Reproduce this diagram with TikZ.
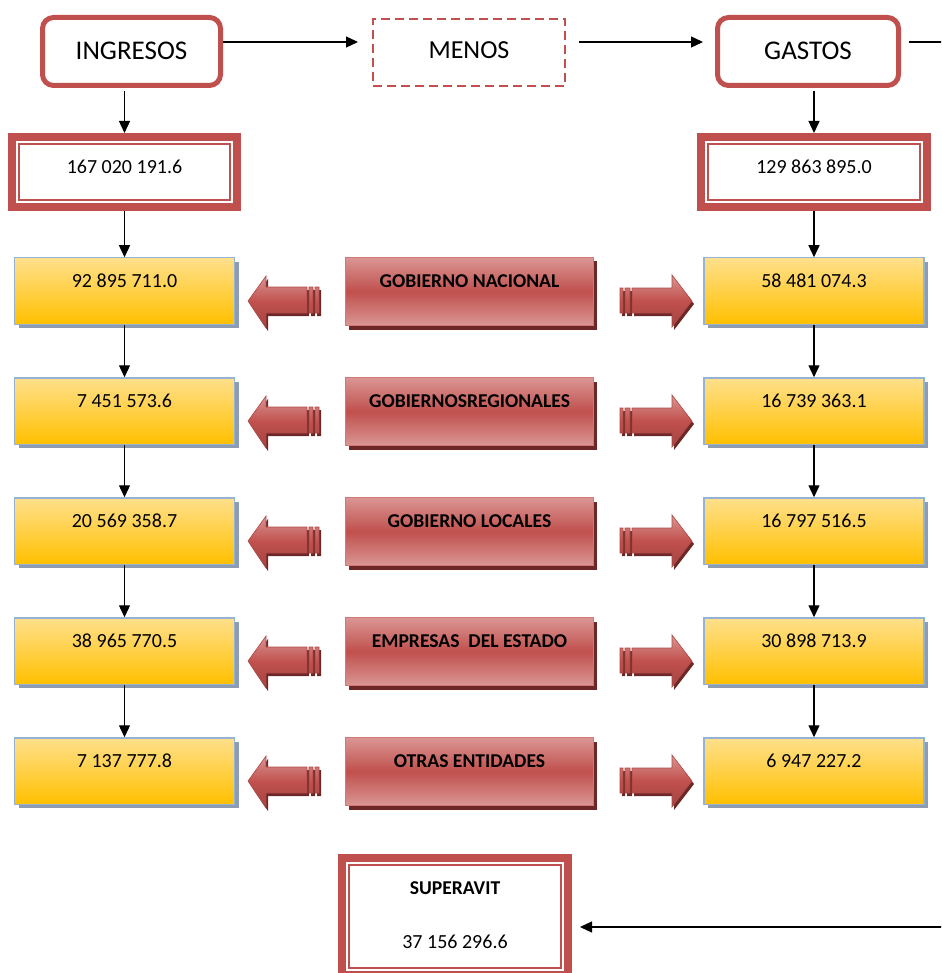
\documentclass[tikz,border=0pt]{standalone}
\usepackage{fontspec}
\setmainfont{Carlito}
\usetikzlibrary{arrows.meta,shadows,calc}
\definecolor{rojo}{HTML}{C0504D}
\definecolor{rojoclaro}{HTML}{DA9694}
\definecolor{rojooscuro}{HTML}{6B2826}
\definecolor{amarclaro}{HTML}{FFE08C}
\definecolor{amarillo}{HTML}{FFC000}
\definecolor{azulborde}{HTML}{95B3D7}
\definecolor{sombragris}{HTML}{8E9CB2}
\newcommand{\innerframe}[1]{\draw[rojo, line width=2pt] ($(#1.north west)+(7.3,7.3)$) rectangle ($(#1.south east)+(-7.3,-7.3)$);}
\begin{document}
\begin{tikzpicture}[x=1pt,y=-1pt,
  conn/.style={draw=black, line width=1.3pt, -{Triangle[length=12pt,width=11pt]}},
  topbox/.style={draw=rojo, line width=5pt, rounded corners=11pt, fill=white, outer sep=0pt, inner sep=0pt, minimum height=68pt, font=\fontsize{27}{30}\selectfont},
  menosbox/.style={draw=rojo, line width=2.4pt, dash pattern=on 9pt off 5pt, outer sep=0pt, inner sep=0pt, minimum width=192pt, minimum height=67pt, font=\fontsize{26}{30}\selectfont},
  dblbox/.style={draw=rojo, line width=8pt, fill=white, outer sep=0pt, inner sep=0pt},
  numtext/.style={font=\fontsize{20}{24}\selectfont, inner sep=0pt},
  yelbox/.style={draw=azulborde, line width=1.5pt, top color=amarclaro, bottom color=amarillo, minimum width=220pt, minimum height=66.5pt, outer sep=0pt, inner sep=0pt, drop shadow={shadow xshift=4pt, shadow yshift=-4pt, fill=sombragris, opacity=1}},
  redbox/.style={draw=rojoclaro!60!rojo, line width=1.2pt, top color=rojoclaro, bottom color=rojoclaro, middle color=rojo, minimum width=248pt, minimum height=68pt, outer sep=0pt, inner sep=0pt, drop shadow={shadow xshift=3pt, shadow yshift=-4pt, fill=rojooscuro, opacity=1}},
  redtext/.style={font=\bfseries\fontsize{19.6}{22}\selectfont, inner sep=0pt},
  blockarrow/.style={top color=rojoclaro, bottom color=rojo!85!black, middle color=rojo, draw=rojo!90!black, line width=0.6pt},
  blockshadow/.style={fill=rojooscuro},
]
\useasboundingbox (0,0) rectangle (941,973);
\clip (0,0) rectangle (941,973);
\coordinate (toprow) at (0,42);
\coordinate (botrow) at (0,927);

% top row
\node[topbox, minimum width=178pt] (ingresos) at (131.5,51.5) {\raisebox{2pt}{INGRESOS}};
\node[menosbox] (menos) at (469,52.5) {\raisebox{5pt}{MENOS}};
\node[topbox, minimum width=181pt] (gastos) at (808,51.5) {\raisebox{2pt}{GASTOS}};

% totals
\node[dblbox, minimum width=225pt, minimum height=70pt] (v167) at (124.5,172) {};
\innerframe{v167}
\node[numtext] (t167) at (124.5,167) {167 020 191.6};
\node[dblbox, minimum width=226pt, minimum height=70pt] (v129) at (814,172) {};
\innerframe{v129}
\node[numtext] (t129) at (814,167) {129 863 895.0};

% rows
\foreach \i/\l/\lab/\r in {0/{92 895 711.0}/{GOBIERNO NACIONAL}/{58 481 074.3},
                           1/{7 451 573.6}/{GOBIERNOSREGIONALES}/{16 739 363.1},
                           2/{20 569 358.7}/{GOBIERNO LOCALES}/{16 797 516.5},
                           3/{38 965 770.5}/{EMPRESAS\ \ DEL ESTADO}/{30 898 713.9},
                           4/{7 137 777.8}/{OTRAS ENTIDADES}/{6 947 227.2}}{
  \pgfmathsetmacro\t{257+120*\i}
  \node[yelbox] (yl\i) at (124.5,\t+34) {};
  \node[numtext] (tl\i) at (124.5,\t+24) {\l};
  \node[yelbox] (yr\i) at (814,\t+34) {};
  \node[numtext] (tr\i) at (814,\t+24) {\r};
  \node[redbox] (rb\i) at (469.5,\t+34.5) {};
  \node[redtext] (rt\i) at (469.5,\t+24) {\lab};
  % left block arrow
  \fill[blockshadow] (250,\t+47) -- (268,\t+22) -- (268,\t+33) -- (309,\t+33) -- (309,\t+59) -- (268,\t+59) -- (268,\t+74) -- cycle
     (311,\t+33) rectangle (315,\t+59) (317,\t+33) rectangle (321,\t+59);
  \shade[blockarrow] (248,\t+44) -- (266,\t+19) -- (266,\t+30) -- (307,\t+30) -- (307,\t+56) -- (266,\t+56) -- (266,\t+71) -- cycle
     (309,\t+30) rectangle (313,\t+56) (315,\t+30) rectangle (319,\t+56);
  % right block arrow
  \fill[blockshadow] (622,\t+34) rectangle (625,\t+59) (627,\t+34) rectangle (632,\t+59)
     (634,\t+34) -- (674,\t+34) -- (674,\t+21) -- (694,\t+47) -- (674,\t+73) -- (674,\t+59) -- (634,\t+59) -- cycle;
  \shade[blockarrow] (620,\t+31) rectangle (623,\t+56) (625,\t+31) rectangle (630,\t+56)
     (632,\t+31) -- (672,\t+31) -- (672,\t+18) -- (692,\t+44) -- (672,\t+70) -- (672,\t+56) -- (632,\t+56) -- cycle;
}

% superavit
\node[dblbox, minimum width=226pt, minimum height=117pt] (superavit) at (455,916.5) {};
\innerframe{superavit}
\node[redtext] (tsup) at (455,888) {SUPERAVIT};
\node[numtext] (nsup) at (455,942) {37 156 296.6};

% connectors
\draw[conn, shorten <=2.5pt, shorten >=15pt] (ingresos.east |- toprow) -- (menos.west |- toprow);
\draw[conn, shorten <=14pt, shorten >=14.5pt] (menos.east |- toprow) -- (gastos.west |- toprow);
\draw[conn, shorten <=10pt, shorten >=12pt] (gastos.east |- toprow) -- ++(70,0) |- (superavit.east |- botrow);

\draw[conn, shorten <=5.5pt, shorten >=4pt] (v167.north |- ingresos.south) -- (v167.north);
\draw[conn, shorten <=5.5pt, shorten >=4pt] (v129.north |- gastos.south) -- (v129.north);
\draw[conn, shorten <=4pt, shorten >=0.5pt] (v167.south) -- (yl0.north);
\draw[conn, shorten <=4pt, shorten >=0.5pt] (v129.south) -- (yr0.north);
\foreach \i/\j in {0/1,1/2,2/3,3/4}{
  \draw[conn, shorten <=1pt, shorten >=0.5pt] (yl\i.south) -- (yl\j.north);
  \draw[conn, shorten <=1pt, shorten >=0.5pt] (yr\i.south) -- (yr\j.north);
}
\end{tikzpicture}
\end{document}
